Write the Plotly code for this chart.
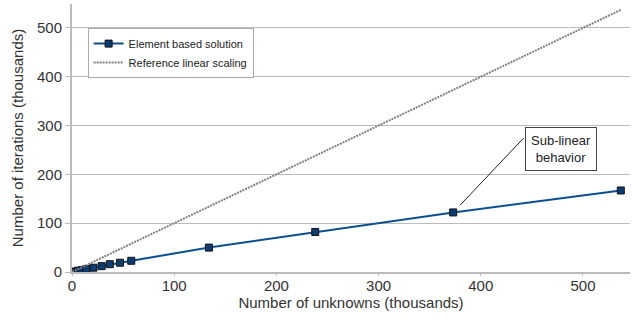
import plotly.graph_objects as go

unknowns = [0, 3, 6, 9.5, 14, 21, 29, 37, 47, 58, 134, 238, 373, 537]
iterations = [0.6, 0.6, 2.6, 4, 6, 8.8, 12, 16, 19, 23, 50, 82, 122, 167]
ref_x = [0, 537]
ref_y = [0, 537]

fig = go.Figure()
fig.add_trace(go.Scatter(x=unknowns, y=iterations, mode="lines+markers",
                         name="Element based solution",
                         line=dict(color="#0d4e8c", width=2),
                         marker=dict(symbol="square", size=7, color="#0b3d73",
                                     line=dict(color="#111", width=1))))
fig.add_trace(go.Scatter(x=ref_x, y=ref_y, mode="lines",
                         name="Reference linear scaling",
                         line=dict(color="#808080", width=2, dash="2px,1px")))

fig.add_annotation(x=373, y=122, xref="x", yref="y", text="", showarrow=True,
                   arrowhead=0, arrowwidth=1, arrowcolor="#222", ax=72, ay=-76,
                   standoff=10)
fig.add_annotation(x=478, y=253, xref="x", yref="y", text="Sub-linear<br>behavior",
                   showarrow=False, bordercolor="#444", borderwidth=1, borderpad=5,
                   bgcolor="white", font=dict(size=13, color="#222"))

fig.update_layout(
    width=634, height=320,
    margin=dict(l=72, r=4, t=4, b=48),
    plot_bgcolor="white", paper_bgcolor="white",
    font=dict(family="Liberation Sans, Arial, sans-serif", color="#333", size=15),
    showlegend=True,
    legend=dict(x=0.028, y=0.91, xanchor="left", yanchor="top",
                bordercolor="#aaa", borderwidth=1, bgcolor="white",
                font=dict(size=11, color="#222"), tracegroupgap=0,
                itemwidth=30),
    xaxis=dict(range=[0, 546], tickvals=[0, 100, 200, 300, 400, 500],
               showgrid=False, showline=True, linecolor="#bbb", linewidth=2,
               ticks="outside", ticklen=2, tickcolor="#bbb", zeroline=False,
               ticklabelstandoff=-3,
               title=dict(text="Number of unknowns (thousands)", font=dict(size=15), standoff=0)),
    yaxis=dict(range=[0, 549], tickvals=[0, 100, 200, 300, 400, 500],
               showgrid=True, gridcolor="#bbb", gridwidth=1,
               showline=True, linecolor="#bbb", linewidth=2,
               ticks="outside", ticklen=5, tickcolor="#bbb", zeroline=False,
               title=dict(text="Number of iterations (thousands)", font=dict(size=15), standoff=10)),
)

fig.write_html("out.html", config={"displayModeBar": False},
               post_script="document.body.style.margin='0';")
